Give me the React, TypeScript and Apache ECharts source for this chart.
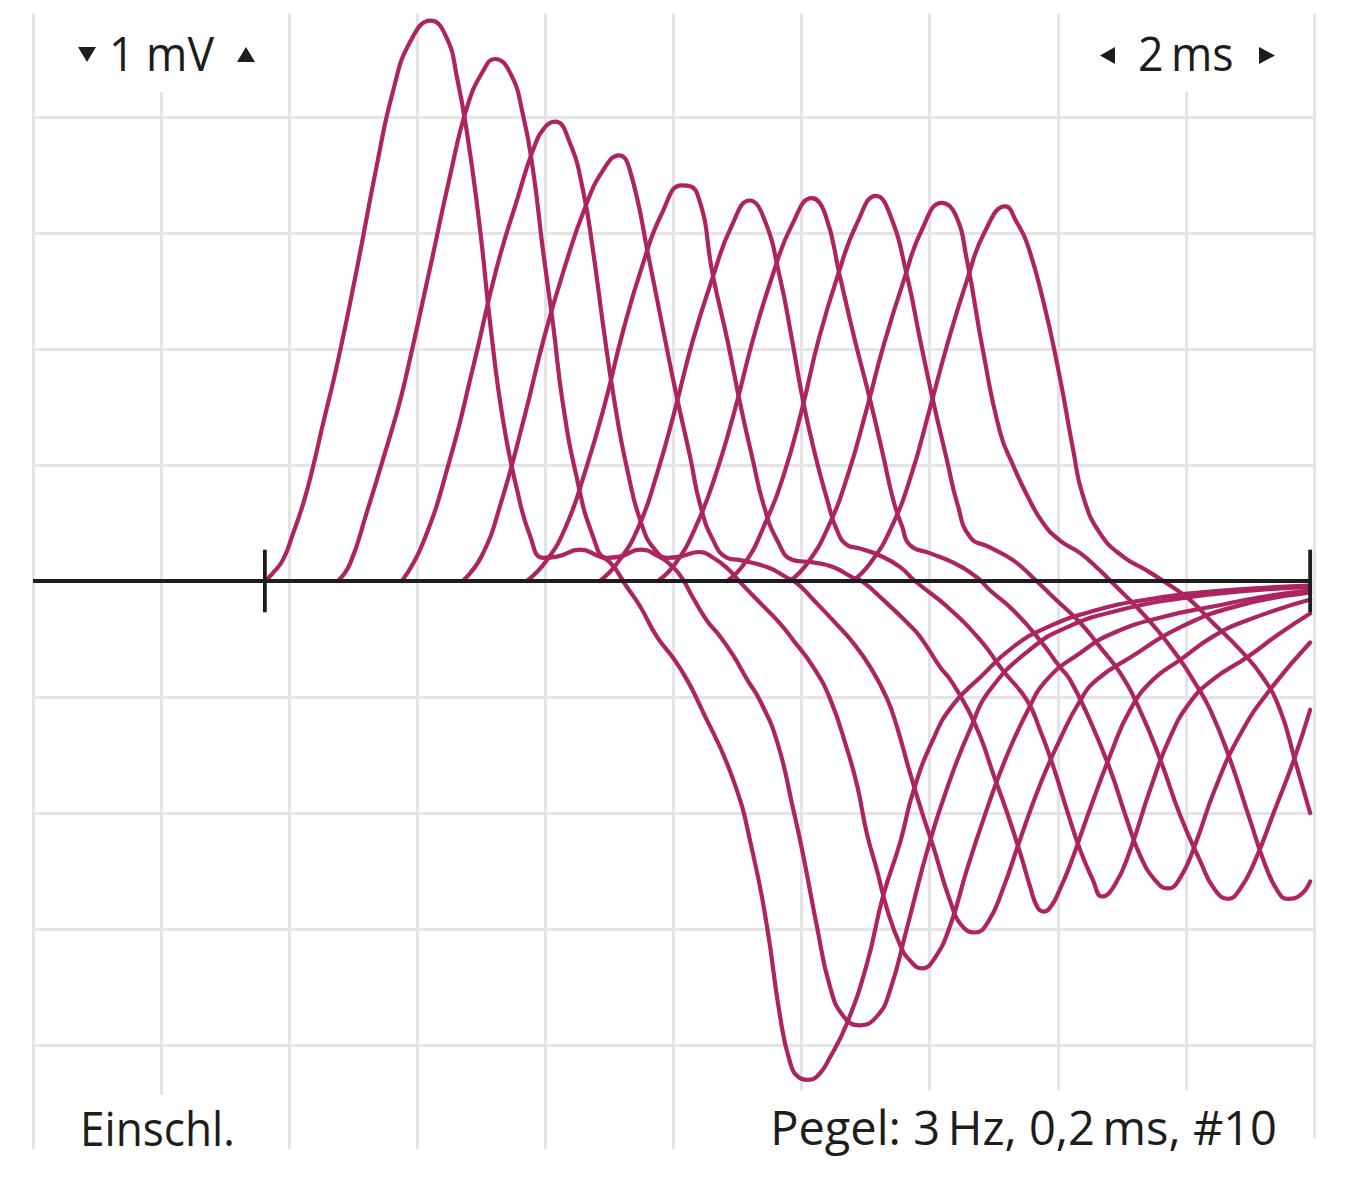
import React, { useEffect, useRef } from 'react';
import * as echarts from 'echarts';

// time axis (ms) and voltage axis (mV), one grid division = 2 ms / 1 mV
const timeRange = [0, 20];
const timeStep = 2;
const voltRange = [-5, 5];
const voltStep = 1;

// black zero line with its two end marks
const baselineSpan = [0, 19.94];
const sweepMarks = [3.62, 19.94];
const markHalf = 0.27;

// ten successive sweeps, [ms, mV]
const trace1 = [[3.62,0],[3.73,0.06],[3.90,0.18],[4.06,0.41],[4.22,0.67],[4.37,0.98],[4.53,1.36],[4.75,1.87],[5.06,2.70],[5.37,3.59],[5.62,4.22],[5.89,4.65],[6.21,4.83],[6.46,4.68],[6.62,4.34],[6.78,3.85],[6.98,3.03],[7.14,2.21],[7.34,1.38],[7.56,0.78],[7.76,0.39],[7.96,0.20],[8.18,0.21],[8.54,0.27],[8.81,0.22],[9.01,0.16],[9.27,-0.05],[9.48,-0.22],[9.74,-0.48],[9.99,-0.66],[10.21,-0.85],[10.41,-1.07],[10.93,-1.71],[11.24,-2.35],[11.46,-2.98],[11.66,-3.74],[11.82,-4.15],[11.96,-4.28],[12.10,-4.30],[12.26,-4.26],[12.44,-4.11],[12.71,-3.81],[13.02,-3.30],[13.27,-2.72],[13.54,-2.25],[13.74,-1.82],[14.05,-1.37],[14.36,-1.07],[14.79,-0.83],[15.30,-0.57],[15.83,-0.40],[16.61,-0.25],[17.39,-0.16],[18.42,-0.09],[19.94,-0.04]];
const trace2 = [[4.76,0],[4.95,0.15],[5.21,0.59],[5.46,1.04],[5.68,1.45],[5.81,1.73],[6.20,2.70],[6.51,3.49],[6.78,4.09],[7.03,4.40],[7.21,4.50],[7.45,4.38],[7.65,4.02],[7.81,3.53],[7.96,2.86],[8.12,2.21],[8.27,1.54],[8.49,0.89],[8.74,0.39],[8.96,0.20],[9.16,0.21],[9.48,0.27],[9.74,0.22],[9.99,0.12],[10.15,0.01],[10.30,-0.14],[10.52,-0.34],[10.73,-0.48],[10.93,-0.64],[11.15,-0.85],[11.35,-1.03],[11.62,-1.39],[11.87,-1.97],[12.02,-2.35],[12.24,-2.98],[12.44,-3.49],[12.65,-3.75],[12.91,-3.83],[13.18,-3.75],[13.38,-3.53],[13.65,-2.98],[14.00,-2.25],[14.32,-1.71],[14.63,-1.28],[14.94,-0.94],[15.57,-0.59],[16.14,-0.40],[16.97,-0.25],[17.91,-0.15],[18.84,-0.09],[19.94,-0.05]];
const trace3 = [[5.76,0],[6.09,0.33],[6.51,1.05],[6.87,1.84],[7.24,2.70],[7.56,3.29],[7.81,3.72],[7.99,3.91],[8.15,3.96],[8.38,3.78],[8.59,3.36],[8.74,2.86],[8.90,2.21],[9.06,1.61],[9.27,0.98],[9.52,0.46],[9.71,0.27],[9.90,0.20],[10.10,0.21],[10.41,0.25],[10.62,0.20],[10.84,0.11],[11.04,-0.01],[11.30,-0.16],[11.62,-0.34],[11.87,-0.51],[12.18,-0.74],[12.44,-1.01],[12.71,-1.45],[12.87,-1.77],[13.02,-2.18],[13.18,-2.50],[13.33,-2.82],[13.54,-3.14],[13.69,-3.27],[13.88,-3.34],[14.08,-3.25],[14.32,-2.97],[14.58,-2.49],[14.86,-2.02],[15.18,-1.54],[15.52,-1.13],[15.83,-0.85],[16.35,-0.62],[16.86,-0.45],[17.64,-0.31],[18.42,-0.22],[19.16,-0.14],[19.94,-0.08]];
const trace4 = [[6.71,0],[7.01,0.22],[7.32,0.70],[7.67,1.41],[7.99,2.12],[8.31,2.72],[8.62,3.22],[8.90,3.54],[9.15,3.67],[9.32,3.54],[9.63,2.74],[9.84,2.16],[10.05,1.59],[10.26,1.07],[10.41,0.67],[10.62,0.35],[10.84,0.20],[11.04,0.18],[11.46,0.12],[11.77,0.03],[11.93,-0.02],[12.18,-0.16],[12.49,-0.34],[12.80,-0.53],[13.07,-0.74],[13.33,-1.01],[13.49,-1.26],[13.69,-1.65],[13.90,-2.03],[14.05,-2.28],[14.32,-2.76],[14.50,-2.97],[14.71,-3.03],[14.91,-2.94],[15.14,-2.66],[15.41,-2.23],[15.72,-1.76],[16.03,-1.37],[16.35,-1.03],[16.61,-0.85],[17.13,-0.66],[17.91,-0.40],[18.84,-0.21],[19.94,-0.10]];
const trace5 = [[7.71,0],[8.01,0.17],[8.32,0.47],[8.63,0.96],[8.93,1.53],[9.21,2.15],[9.52,2.73],[9.82,3.17],[10.13,3.41],[10.37,3.34],[10.62,2.62],[10.84,2.08],[11.04,1.53],[11.24,1.04],[11.40,0.67],[11.62,0.35],[11.87,0.18],[12.18,0.16],[12.49,0.12],[12.80,0.03],[12.96,-0.01],[13.27,-0.16],[13.65,-0.36],[13.85,-0.48],[14.16,-0.74],[14.32,-0.85],[14.58,-1.09],[14.79,-1.34],[14.99,-1.66],[15.21,-2.00],[15.41,-2.34],[15.57,-2.64],[15.68,-2.81],[15.78,-2.85],[15.90,-2.80],[16.03,-2.66],[16.19,-2.45],[16.50,-1.97],[16.82,-1.50],[17.13,-1.11],[17.49,-0.85],[17.91,-0.68],[18.42,-0.48],[18.95,-0.34],[19.94,-0.16]];
const trace6 = [[8.85,0],[9.13,0.16],[9.45,0.46],[9.74,0.92],[10.02,1.47],[10.30,2.07],[10.62,2.63],[10.90,3.05],[11.19,3.28],[11.41,3.13],[11.66,2.62],[11.85,2.08],[12.02,1.56],[12.21,1.09],[12.40,0.70],[12.55,0.44],[12.71,0.31],[12.91,0.28],[13.22,0.22],[13.54,0.12],[13.77,0],[14.27,-0.22],[14.79,-0.51],[15.14,-0.77],[15.52,-1.03],[15.72,-1.28],[15.93,-1.60],[16.14,-1.97],[16.35,-2.32],[16.55,-2.58],[16.69,-2.72],[16.89,-2.62],[17.13,-2.32],[17.44,-1.80],[17.75,-1.35],[18.06,-1.05],[18.42,-0.85],[18.95,-0.66],[19.47,-0.45],[19.94,-0.28]];
const trace7 = [[9.76,0],[10.04,0.16],[10.35,0.47],[10.66,0.92],[10.96,1.48],[11.24,2.08],[11.55,2.64],[11.85,3.07],[12.16,3.30],[12.37,3.16],[12.60,2.62],[12.83,2.08],[13.07,1.56],[13.27,1.09],[13.43,0.70],[13.57,0.47],[13.69,0.31],[14.00,0.24],[14.36,0.16],[14.74,0.03],[14.94,-0.08],[15.30,-0.25],[15.72,-0.51],[16.03,-0.74],[16.19,-0.85],[16.50,-1.20],[16.82,-1.63],[17.08,-2.06],[17.28,-2.36],[17.52,-2.58],[17.72,-2.65],[17.91,-2.56],[18.14,-2.28],[18.45,-1.80],[18.84,-1.33],[19.31,-0.94],[19.94,-0.53]];
const trace8 = [[10.84,0],[11.12,0.16],[11.41,0.47],[11.73,0.93],[12.01,1.49],[12.27,2.09],[12.58,2.66],[12.87,3.09],[13.16,3.32],[13.38,3.16],[13.65,2.62],[13.85,2.08],[14.05,1.56],[14.27,1.04],[14.43,0.67],[14.63,0.38],[14.94,0.29],[15.30,0.18],[15.61,0.03],[15.93,-0.14],[16.35,-0.36],[16.66,-0.57],[16.97,-0.79],[17.28,-1.11],[17.60,-1.54],[17.91,-2.02],[18.22,-2.41],[18.45,-2.66],[18.66,-2.74],[18.84,-2.66],[19.08,-2.41],[19.39,-1.97],[19.70,-1.52],[19.94,-1.11]];
const trace9 = [[11.82,0],[12.10,0.16],[12.41,0.46],[12.72,0.91],[13.01,1.47],[13.29,2.05],[13.60,2.60],[13.88,3.03],[14.19,3.26],[14.40,3.16],[14.58,2.77],[14.83,1.99],[15.10,1.28],[15.30,1.00],[15.52,0.74],[15.77,0.50],[16.03,0.35],[16.35,0.24],[16.66,0.09],[16.86,-0.02],[17.17,-0.19],[17.55,-0.42],[17.91,-0.68],[18.11,-0.85],[18.38,-1.11],[18.69,-1.54],[19.00,-2.06],[19.24,-2.45],[19.44,-2.68],[19.59,-2.74],[19.78,-2.71],[19.94,-2.59]];
const trace10 = [[12.80,0],[13.08,0.16],[13.40,0.46],[13.71,0.91],[13.99,1.46],[14.27,2.03],[14.58,2.59],[14.86,3.01],[15.18,3.23],[15.36,3.09],[15.52,2.91],[15.77,2.42],[16.03,1.76],[16.24,1.13],[16.39,0.74],[16.66,0.41],[17.02,0.21],[17.39,0.09],[17.70,-0.02],[18.06,-0.16],[18.42,-0.36],[18.84,-0.59],[19.20,-0.83],[19.47,-1.11],[19.70,-1.54],[19.94,-2.00]];

const traces = [trace1, trace2, trace3, trace4, trace5, trace6, trace7, trace8, trace9, trace10];

const amplitudeLabel = '1 mV';
const timeLabel = '2\u2009ms';
const modeLabel = 'Einschl.';
const levelLabel = 'Pegel: 3\u2009Hz, 0,2\u2009ms, #10';

const TRACE_COLOR = '#ac2460';
const GRID_COLOR = '#e4e4e4';
const INK = '#1d1d1b';
const FONT = '"Open Sans", "Noto Sans", sans-serif';

const App = () => {
    const chartRef = useRef<HTMLDivElement>(null);

    useEffect(() => {
        if (!chartRef.current) return;
        const chart = echarts.init(chartRef.current, null, { renderer: 'svg' });

        const voltTickCount = (voltRange[1] - voltRange[0]) / voltStep + 1;
        // outermost horizontal lines are not drawn in the original
        const hLineColors = Array.from({ length: voltTickCount }, (_, i) =>
            i === 0 || i === voltTickCount - 1 ? 'rgba(0,0,0,0)' : GRID_COLOR
        );

        const mask = (x: number, y: number, w: number, h: number) => ({
            type: 'rect', z: 5, silent: true,
            shape: { x, y, width: w, height: h },
            style: { fill: '#ffffff' }
        });
        const label = (text: string, x: number, y: number, align: string, sx = 1) => ({
            type: 'text', z: 6, silent: true, x, y, scaleX: sx,
            style: {
                text, fill: INK, font: `47px ${FONT}`,
                textAlign: align, align, textVerticalAlign: 'middle', verticalAlign: 'middle'
            }
        });
        const tri = (points: number[][]) => ({
            type: 'polygon', z: 6, silent: true,
            shape: { points },
            style: { fill: INK }
        });

        const option = {
            animation: false,
            backgroundColor: '#ffffff',
            grid: { left: 33, right: 32, top: 1, bottom: 20, containLabel: false },
            xAxis: {
                type: 'value', min: timeRange[0], max: timeRange[1], interval: timeStep,
                axisLine: { show: false }, axisTick: { show: false }, axisLabel: { show: false },
                splitLine: { show: true, lineStyle: { color: GRID_COLOR, width: 3 } }
            },
            yAxis: {
                type: 'value', min: voltRange[0], max: voltRange[1], interval: voltStep,
                axisLine: { show: false }, axisTick: { show: false }, axisLabel: { show: false },
                splitLine: { show: true, lineStyle: { color: hLineColors, width: 3 } }
            },
            series: [
                ...traces.map((data, i) => ({
                    name: `Sweep ${i + 1}`,
                    type: 'line',
                    data,
                    z: 2,
                    smooth: 0.5,
                    showSymbol: false,
                    silent: true,
                    lineStyle: { color: TRACE_COLOR, width: 4.2, cap: 'round', join: 'round' }
                })),
                {
                    name: 'baseline', type: 'line', z: 3, showSymbol: false, silent: true,
                    data: baselineSpan.map((t) => [t, 0]),
                    lineStyle: { color: INK, width: 3.8 }
                },
                ...sweepMarks.map((t) => ({
                    name: 'mark', type: 'line', z: 3, showSymbol: false, silent: true,
                    data: [[t, -markHalf], [t, markHalf]],
                    lineStyle: { color: INK, width: 3.8 }
                }))
            ],
            graphic: [
                mask(0, 0, 1346, 14),
                mask(0, 1149, 1300, 40),
                mask(1300, 1138, 46, 50),
                mask(70, 14, 192, 78),
                mask(1090, 14, 196, 78),
                mask(70, 1095, 180, 60),
                mask(755, 1090, 545, 60),
                tri([[78, 47], [96, 47], [87, 62]]),
                label(amplitudeLabel, 109, 53, 'left', 0.95),
                tri([[237, 62], [255, 62], [246, 47]]),
                tri([[1115, 47], [1115, 64], [1100, 55.5]]),
                label(timeLabel, 1138, 53, 'left', 0.95),
                tri([[1259, 47], [1259, 64], [1275, 55.5]]),
                label(modeLabel, 80, 1127, 'left', 0.94),
                label(levelLabel, 1277, 1127, 'right')
            ]
        };

        chart.setOption(option);
        return () => {
            chart.dispose();
        };
    }, []);

    return (
        <div
            ref={chartRef}
            style={{ position: 'absolute', left: 0, top: 0, width: 1346, height: 1181, background: '#ffffff' }}
        />
    );
};

export default App;
